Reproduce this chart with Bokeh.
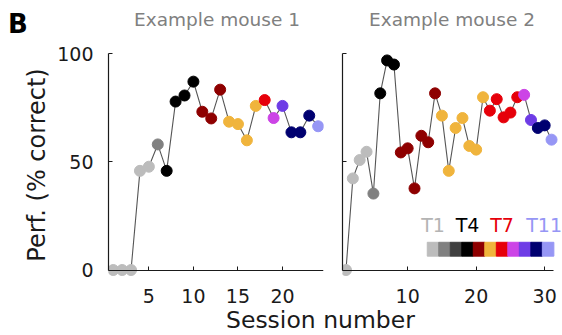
from bokeh.plotting import figure
from bokeh.models import Label, FixedTicker, Div, Range1d, ColumnDataSource, LinearAxis
from bokeh.layouts import row, column
from bokeh.embed import file_html
from bokeh.resources import INLINE

# ---------------- data ----------------
stage_names = ["T1", "T2", "T3", "T4", "T5", "T6", "T7", "T8", "T9", "T10", "T11"]
stage_colors = ["#bcbcbc", "#808080", "#404040", "#000000", "#8e0000", "#f0b43c",
                "#e6000a", "#cc44e6", "#6e3ce6", "#000070", "#9696f5"]

m1_session = list(range(1, 25))
m1_perf = [0, 0, 0, 45.8, 47.7, 58.0, 45.8, 77.8, 80.6, 87.0, 73.1, 70.0,
           83.3, 68.5, 67.4, 59.9, 75.8, 78.5, 70.2, 75.8, 63.6, 63.6, 71.3, 66.4]
m1_stage = [1, 1, 1, 1, 1, 2, 4, 4, 4, 4, 5, 5, 5, 6, 6, 6, 6, 7, 8, 9, 10, 10, 10, 11]

m2_session = list(range(1, 32))
m2_perf = [0, 42.3, 50.8, 54.6, 35.3, 81.6, 96.8, 94.9, 54.3, 56.2, 37.7, 62.0,
           59.0, 81.6, 71.3, 45.8, 65.6, 70.2, 57.3, 55.6, 79.8, 73.6, 78.9, 70.5,
           72.7, 79.8, 80.9, 69.3, 65.6, 66.8, 60.2]
m2_stage = [1, 1, 1, 1, 2, 4, 4, 4, 5, 5, 5, 5, 5, 5, 6, 6, 6, 6, 6, 6, 6,
            7, 7, 7, 7, 7, 8, 9, 10, 10, 11]

panel_letter = "B"
titles = ["Example mouse 1", "Example mouse 2"]
legend_stages = [1, 4, 7, 11]
m1_xticks = [5, 10, 15, 20]
m2_xticks = [10, 20, 30]
y_ticks = [0, 50, 100]

FONT = "DejaVu Sans"
INK = "#1a1a1a"


def panel(width, bl, br, xr, xbounds, sessions, perf, stages, xticks, ylabels):
    p = figure(width=width, height=274, x_range=Range1d(*xr), y_range=Range1d(-3, 100),
               output_backend="svg", toolbar_location=None,
               min_border_left=bl, min_border_right=br,
               min_border_top=13, min_border_bottom=38)
    p.outline_line_color = None
    p.grid.visible = False
    p.background_fill_color = "white"
    p.border_fill_color = "white"
    cols = [stage_colors[s - 1] for s in stages]
    src = ColumnDataSource(dict(x=sessions, y=perf, c=cols))
    p.line("x", "y", source=src, line_color="#555555", line_width=1.1)
    p.scatter("x", "y", source=src, size=11, fill_color="c", line_color="c")

    # labelled x axis (labels only) at the frame bottom
    xa = p.xaxis[0]
    xa.ticker = FixedTicker(ticks=xticks)
    xa.axis_line_color = None
    xa.major_tick_line_color = None
    xa.minor_tick_line_color = None
    xa.major_label_text_font = FONT
    xa.major_label_text_font_size = "19px"
    xa.major_label_text_color = INK
    xa.major_label_standoff = 6

    # x axis line and ticks at y = 0
    xl = LinearAxis(ticker=FixedTicker(ticks=xticks), fixed_location=0, bounds=xbounds,
                    axis_line_color=INK, axis_line_width=1.2, major_tick_line_color=INK,
                    major_tick_in=4, major_tick_out=0, minor_tick_line_color=None,
                    major_label_text_font_size="1px", major_label_text_color=None,
                    major_label_standoff=0)
    p.add_layout(xl, "below")

    ya = p.yaxis[0]
    ya.ticker = FixedTicker(ticks=y_ticks)
    ya.bounds = (0, 100)
    ya.axis_line_color = INK
    ya.axis_line_width = 1.2
    ya.major_tick_line_color = INK
    ya.major_tick_in = 4
    ya.major_tick_out = 0
    ya.minor_tick_line_color = None
    if ylabels:
        ya.major_label_text_font = FONT
        ya.major_label_text_font_size = "19px"
        ya.major_label_text_color = INK
        ya.major_label_standoff = 15
        ya.axis_label = "Perf. (% correct)"
        ya.axis_label_text_font = FONT
        ya.axis_label_text_font_size = "24px"
        ya.axis_label_text_font_style = "normal"
        ya.axis_label_text_color = INK
        ya.axis_label_standoff = 3
    else:
        ya.major_label_text_font_size = "1px"
        ya.major_label_text_color = None
        ya.major_label_standoff = 0
    return p


p1 = panel(333, 108, 10, (0.47, 24.6), (0.47, 24.6), m1_session, m1_perf, m1_stage,
           m1_xticks, True)
p2 = panel(229, 9, 0, (0.49, 32.6), (0.49, 31.3), m2_session, m2_perf, m2_stage,
           m2_xticks, False)

# stage colour key
key_x0, key_w, key_y, key_h = 12.86, 1.68, 9.6, 6.4
key_x = [key_x0 + key_w * (i + 0.5) for i in range(len(stage_colors))]
p2.rect(x=key_x, y=[key_y] * len(stage_colors), width=key_w, height=key_h,
        fill_color=stage_colors, line_color=stage_colors)
for s in legend_stages:
    p2.add_layout(Label(x=key_x[s - 1], y=15.5, text=stage_names[s - 1], text_align="center",
                        x_offset=-4 if s == 11 else 0,
                        text_font=FONT, text_font_size="19px",
                        text_color=stage_colors[s - 1] if s != 1 else "#b4b4b4"))

# header: panel letter and panel titles
title_centers = [217, 452]
span = ('<span style="position:absolute;left:{l}px;top:{t}px;width:{w}px;text-align:{a};'
        'font-size:{fs}px;line-height:{lh}px;font-weight:{fw};color:{c};white-space:nowrap">'
        '{txt}</span>')
head = span.format(l=8, t=11, w=40, a="left", fs=26, lh=26, fw="bold", c="#000000",
                   txt=panel_letter)
for c, t in zip(title_centers, titles):
    head += span.format(l=c - 150, t=10.8, w=300, a="center", fs=18.5, lh=18, fw="normal",
                        c="#808080", txt=t)
header = Div(text='<div style="position:relative;width:562px;height:40px;'
                  'font-family:\'DejaVu Sans\'">' + head + '</div>',
             width=562, height=40, margin=(0, 0, 0, 0))

xlabel = Div(text="Session number", width=300, height=12, margin=(0, 0, 0, 226),
             styles={"font-family": FONT, "font-size": "23.5px", "line-height": "12px",
                     "color": INK, "white-space": "nowrap"})

layout = column(header, row(p1, p2), xlabel)
open("out.html", "w").write(file_html(layout, INLINE))
